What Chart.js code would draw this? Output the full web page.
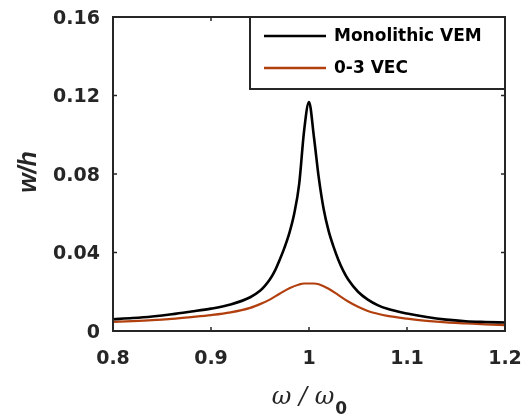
<!DOCTYPE html>
<html>
<head>
<meta charset="utf-8">
<script src="https://cdn.jsdelivr.net/npm/chart.js@4.4.1/dist/chart.umd.min.js"></script>
<style>
html,body{margin:0;padding:0;background:#fff;}
#wrap{width:531px;height:418px;position:relative;}
</style>
</head>
<body>
<div id="wrap"><canvas id="c" width="531" height="418"></canvas></div>
<script>
// Data
const seriesNames = ["Monolithic VEM", "0-3 VEC"];
const omegaMono = [0.80,0.82,0.84,0.86,0.88,0.90,0.92,0.94,0.95,0.955,0.96,0.965,0.97,0.975,0.98,0.985,0.99,0.995,1.000,1.005,1.010,1.015,1.02,1.025,1.03,1.035,1.04,1.05,1.06,1.07,1.08,1.10,1.12,1.14,1.16,1.18,1.20];
const wMono     = [0.0060,0.0066,0.0074,0.0085,0.0099,0.0114,0.0135,0.0172,0.0205,0.0230,0.0262,0.0305,0.0362,0.0425,0.0500,0.0600,0.0750,0.1020,0.1167,0.0990,0.0780,0.0620,0.0510,0.0430,0.0362,0.0306,0.0262,0.0200,0.0160,0.0132,0.0113,0.0089,0.0071,0.0058,0.0050,0.0046,0.0043];
const omegaVec  = [0.80,0.82,0.84,0.86,0.88,0.90,0.92,0.94,0.95,0.96,0.97,0.98,0.99,0.995,1.005,1.01,1.02,1.03,1.04,1.05,1.06,1.07,1.08,1.10,1.12,1.14,1.16,1.18,1.20];
const wVec      = [0.0046,0.0050,0.0055,0.0062,0.0071,0.0081,0.0095,0.0118,0.0137,0.0160,0.0190,0.0218,0.0237,0.0242,0.0242,0.0238,0.0215,0.0183,0.0150,0.0123,0.0102,0.0088,0.0077,0.0063,0.0052,0.0044,0.0039,0.0034,0.0030];
const xTickValues = [0.8,0.9,1.0,1.1,1.2];
const xTickLabels = ["0.8","0.9","1","1.1","1.2"];
const yTickValues = [0,0.04,0.08,0.12,0.16];
const yTickLabels = ["0","0.04","0.08","0.12","0.16"];

const AXIS = '#262626';
const TICKFONT = {family:'"DejaVu Sans", sans-serif', size:19, weight:'bold'};

function zeroPad(s){ s.paddingLeft = 0; s.paddingRight = 0; s.paddingTop = 0; s.paddingBottom = 0; }

const boxPlugin = {
  id:'boxPlugin',
  afterDatasetsDraw(chart){
    const {ctx, chartArea:a, scales:{x,y}} = chart;
    ctx.save();
    ctx.strokeStyle = AXIS; ctx.lineWidth = 1.5;
    const tl = 4;
    xTickValues.forEach(v=>{
      const px = x.getPixelForValue(v);
      ctx.beginPath(); ctx.moveTo(px,a.bottom); ctx.lineTo(px,a.bottom-tl); ctx.stroke();
      ctx.beginPath(); ctx.moveTo(px,a.top); ctx.lineTo(px,a.top+tl); ctx.stroke();
    });
    yTickValues.forEach(v=>{
      const py = y.getPixelForValue(v);
      ctx.beginPath(); ctx.moveTo(a.left,py); ctx.lineTo(a.left+tl,py); ctx.stroke();
      ctx.beginPath(); ctx.moveTo(a.right,py); ctx.lineTo(a.right-tl,py); ctx.stroke();
    });
    // legend box
    const lx = 250, ly = a.top, lr = a.right, lb = 89;
    ctx.fillStyle = '#fff';
    ctx.fillRect(lx, ly, lr-lx, lb-ly);
    ctx.strokeStyle = AXIS; ctx.lineWidth = 2;
    ctx.strokeRect(lx, ly, lr-lx, lb-ly);
    const rows = [36, 68];
    chart.data.datasets.forEach((ds,i)=>{
      ctx.strokeStyle = ds.borderColor; ctx.lineWidth = 2.5;
      ctx.beginPath(); ctx.moveTo(264, rows[i]); ctx.lineTo(326, rows[i]); ctx.stroke();
      ctx.fillStyle = '#000';
      ctx.font = 'bold 17px "DejaVu Sans", sans-serif';
      ctx.textBaseline = 'middle'; ctx.textAlign = 'left';
      ctx.fillText(ds.label, 334, rows[i]+1);
    });
    // axes box
    ctx.strokeStyle = AXIS; ctx.lineWidth = 2;
    ctx.strokeRect(a.left, a.top, a.right-a.left, a.bottom-a.top);
    // x title: omega / omega_0
    ctx.fillStyle = AXIS;
    ctx.textBaseline = 'alphabetic'; ctx.textAlign = 'left';
    const main = 'ω / ω';
    ctx.font = 'italic 24px "DejaVu Serif", serif';
    const mw = ctx.measureText(main).width;
    ctx.font = 'bold 17px "DejaVu Sans", sans-serif';
    const sw = ctx.measureText('0').width;
    const cx = 309; const start = cx - (mw+sw)/2;
    ctx.font = 'italic 24px "DejaVu Serif", serif';
    ctx.fillText(main, start, 404);
    ctx.font = 'bold 17px "DejaVu Sans", sans-serif';
    ctx.fillText('0', start+mw+1, 414);
    // y title
    ctx.save();
    ctx.translate(36, 172);
    ctx.rotate(-Math.PI/2);
    ctx.textAlign = 'center'; ctx.textBaseline = 'alphabetic';
    ctx.font = 'italic bold 25px "Liberation Sans", Arial, sans-serif';
    ctx.fillStyle = AXIS;
    ctx.fillText('w/h', 0, 0);
    ctx.restore();
    ctx.restore();
  }
};

new Chart(document.getElementById('c'), {
  type:'line',
  data:{
    datasets:[
      {label:seriesNames[0], data:omegaMono.map((v,i)=>({x:v,y:wMono[i]})), borderColor:'#000000', borderWidth:2.6, pointRadius:0, cubicInterpolationMode:'monotone', fill:false},
      {label:seriesNames[1], data:omegaVec.map((v,i)=>({x:v,y:wVec[i]})), borderColor:'#b2400f', borderWidth:2.2, pointRadius:0, cubicInterpolationMode:'monotone', fill:false}
    ]
  },
  options:{
    responsive:false, animation:false, devicePixelRatio:1,
    layout:{padding:{left:0, top:17, right:26, bottom:0}},
    plugins:{legend:{display:false}, tooltip:{enabled:false}},
    scales:{
      x:{
        type:'linear', min:0.8, max:1.2,
        afterBuildTicks(s){ s.ticks = xTickValues.map(v=>({value:v})); },
        afterFit(s){ s.height = 87; zeroPad(s); },
        grid:{display:false, drawTicks:false},
        border:{display:false},
        ticks:{padding:17, color:AXIS, font:TICKFONT, maxRotation:0, autoSkip:false,
          callback:(v)=>{ const i = xTickValues.findIndex(t=>Math.abs(t-v)<1e-9); return i>=0?xTickLabels[i]:''; }}
      },
      y:{
        type:'linear', min:0, max:0.16,
        afterBuildTicks(s){ s.ticks = yTickValues.map(v=>({value:v})); },
        afterFit(s){ s.width = 113; zeroPad(s); },
        grid:{display:false, drawTicks:false},
        border:{display:false},
        ticks:{padding:13, labelOffset:2, color:AXIS, font:TICKFONT, autoSkip:false,
          callback:(v)=>{ const i = yTickValues.findIndex(t=>Math.abs(t-v)<1e-9); return i>=0?yTickLabels[i]:''; }}
      }
    }
  },
  plugins:[boxPlugin]
});
</script>
</body>
</html>
